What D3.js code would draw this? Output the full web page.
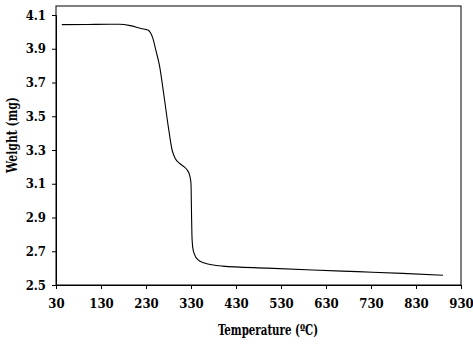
<!DOCTYPE html>
<html><head><meta charset="utf-8">
<script src="https://cdn.jsdelivr.net/npm/d3@7"></script>
<style>body{margin:0;background:#fff}svg{display:block}svg text{font-stretch:condensed}</style>
</head><body><div id="c"></div>
<script>
const temperature = [43, 100, 150, 171, 195, 219, 234, 240, 245, 252, 260, 270, 280, 288, 295, 305, 315, 322, 327, 330, 331, 332, 334, 338, 345, 360, 400, 500, 600, 700, 800, 890];
const weight =      [4.043, 4.044, 4.045, 4.045, 4.037, 4.02, 4.011, 3.995, 3.964, 3.89, 3.80, 3.62, 3.43, 3.30, 3.25, 3.22, 3.20, 3.18, 3.15, 3.10, 2.95, 2.80, 2.72, 2.68, 2.65, 2.63, 2.612, 2.60, 2.589, 2.579, 2.569, 2.558];
const xTicks = [30, 130, 230, 330, 430, 530, 630, 730, 830, 930];
const yTicks = [2.5, 2.7, 2.9, 3.1, 3.3, 3.5, 3.7, 3.9, 4.1];

const FONT = "'DejaVu Serif Condensed', 'DejaVu Serif', serif";
const W = 473, H = 344;
const L = 56, R = 461, T = 6, B = 285;
const svg = d3.select("#c").append("svg").attr("width", W).attr("height", H)
  .style("font-family", FONT);
const x = d3.scaleLinear().domain([30, 930]).range([L, R]);
const y = d3.scaleLinear().domain([2.5, 4.1]).range([B, 15]);

svg.append("rect").attr("x", L).attr("y", T).attr("width", R - L).attr("height", B - T)
  .attr("fill", "none").attr("stroke", "#000").attr("stroke-width", 1);

const xa = svg.append("g").attr("transform", `translate(0,${B})`)
  .call(d3.axisBottom(x).tickValues(xTicks).tickSize(4).tickPadding(10).tickFormat(d3.format("d")));
const ya = svg.append("g").attr("transform", `translate(${L},0)`)
  .call(d3.axisLeft(y).tickValues(yTicks).tickSize(4).tickPadding(6).tickFormat(d3.format(".1f")));
[xa, ya].forEach(g => {
  g.attr("font-family", FONT);
  g.select(".domain").attr("stroke", "#000");
  g.selectAll(".tick line").attr("stroke", "#000");
  g.selectAll("text").attr("font-size", 13).attr("fill", "#000")
    .attr("font-family", FONT).attr("font-weight", "bold");
});

svg.append("path").datum(temperature.map((t, i) => [t, weight[i]]))
  .attr("fill", "none").attr("stroke", "#000").attr("stroke-width", 1.1)
  .attr("d", d3.line().x(d => x(d[0])).y(d => y(d[1])).curve(d3.curveMonotoneX));

svg.append("text").attr("x", 268).attr("y", 335).attr("text-anchor", "middle").attr("font-size", 14.5)
  .attr("font-family", FONT).attr("font-weight", "bold")
  .attr("textLength", 100).attr("lengthAdjust", "spacingAndGlyphs").text("Temperature (ºC)");
svg.append("text").attr("transform", "translate(17,135) rotate(-90)").attr("text-anchor", "middle").attr("font-size", 15)
  .attr("font-family", FONT).attr("font-weight", "bold")
  .attr("textLength", 76).attr("lengthAdjust", "spacingAndGlyphs").text("Weight (mg)");
</script></body></html>
